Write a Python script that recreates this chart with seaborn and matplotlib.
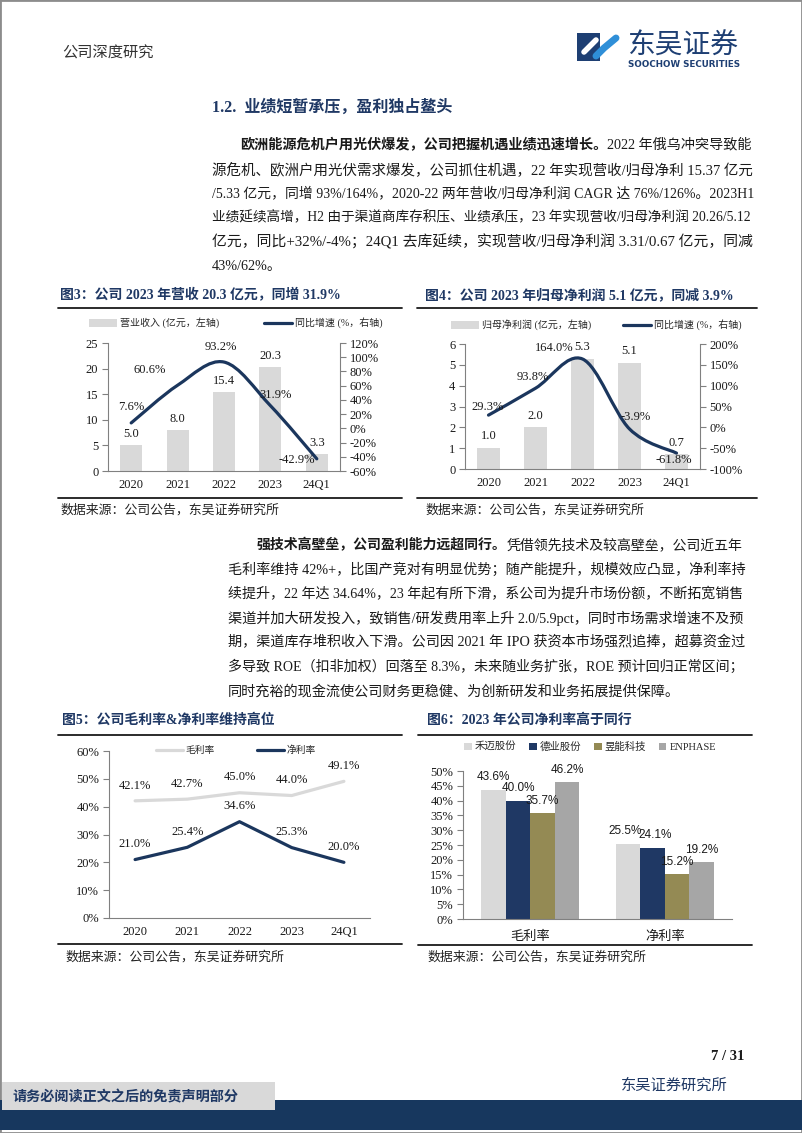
import matplotlib
matplotlib.use("Agg")
import matplotlib.pyplot as plt
import seaborn as sns
import pandas as pd
import numpy as np
from matplotlib.path import Path
from matplotlib.patches import PathPatch, Rectangle, Patch
from matplotlib.lines import Line2D
from matplotlib.font_manager import FontProperties

# ---------------- data ----------------
years = ['2020', '2021', '2022', '2023', '24Q1']
revenue = [5.0, 8.0, 15.4, 20.3, 3.3]            # 亿元
revenue_yoy = [7.6, 60.6, 93.2, 31.9, -42.9]     # %
profit = [1.0, 2.0, 5.3, 5.1, 0.7]               # 亿元
profit_yoy = [29.3, 93.8, 164.0, -3.9, -61.8]    # %
gross_margin = [42.1, 42.7, 45.0, 44.0, 49.1]    # %
net_margin = [21.0, 25.4, 34.6, 25.3, 20.0]      # %
peers = ['禾迈股份', '德业股份', '昱能科技', 'ENPHASE']
peer_metrics = ['毛利率', '净利率']
peer_gross = [43.6, 40.0, 35.7, 46.2]
peer_net = [25.5, 24.1, 15.2, 19.2]

# label offsets (pixels, dx, dy) for the yoy line labels
rev_yoy_off = [(0, -16), (-28, -15), (-3, -15), (5, -11), (-20, 1)]
pro_yoy_off = [(-1, -8), (-3, -11), (-28, -11), (6, -12), (-3, 7)]
peer_label_dx = [[0, 0, 0, 0], [-3, 3, 0, 0]]

# ---------------- style ----------------
sns.set_theme(style='white')
SERIF = ['Liberation Serif', 'Noto Sans CJK SC']
CJK = ['Noto Sans CJK SC', 'DejaVu Sans']
plt.rcParams['font.family'] = SERIF
plt.rcParams['axes.unicode_minus'] = False

NAVY = '#1B365D'
TITLE = '#1F3864'
GREY_BAR = '#D9D9D9'
SPINE = '#808080'
TXT = '#1a1a1a'

W, H = 802, 1133
fig = plt.figure(figsize=(W / 100, H / 100), dpi=100)
renderer = fig.canvas.get_renderer()


def fx(x):
    return x / W


def fy(y):
    return 1 - y / H


def add_ax(l, t, r, b):
    return fig.add_axes([l / W, 1 - b / H, (r - l) / W, (b - t) / H])


def ptext(x, y, s, **kw):
    kw.setdefault('va', 'center')
    kw.setdefault('color', TXT)
    return fig.text(fx(x), fy(y), s, **kw)


def hline(x0, x1, y, lw=1.3, color='#1a1a1a'):
    fig.add_artist(Line2D([fx(x0), fx(x1)], [fy(y), fy(y)], transform=fig.transFigure,
                          color=color, lw=lw))


def rect(x0, y0, x1, y1, color, z=0):
    fig.add_artist(Rectangle((fx(x0), fy(y1)), (x1 - x0) / W, (y1 - y0) / H,
                             transform=fig.transFigure, facecolor=color,
                             edgecolor='none', zorder=z))


def text_line(x, y, segments, right=None, size=10.2):
    """segments: list of (text, weight). Optionally scaled to end at `right`."""
    objs = []
    for s, wgt in segments:
        objs.append(ptext(x, y, s, fontsize=size, fontweight=wgt, ha='left'))

    def layout(sz):
        cx = x
        for o in objs:
            o.set_fontsize(sz)
            o.set_x(fx(cx))
            cx += o.get_window_extent(renderer).width
        return cx - x

    wdt = layout(size)
    if right is not None:
        scale = (right - x) / wdt
        scale = min(max(scale, 0.9), 1.12)
        layout(size * scale)
    return objs


# ---------------- page frame / header / footer ----------------
fig.add_artist(Rectangle((0, 0), 1, 1, transform=fig.transFigure, fill=False,
                         edgecolor='#8c8c8c', lw=2))
ptext(62, 53, '公司深度研究', fontsize=11, color='#333333', family=CJK)

# logo
rect(577, 33, 600, 61, '#1E3F73', z=2)
fig.add_artist(Line2D([fx(584), fx(596)], [fy(52), fy(40)], transform=fig.transFigure,
                      color='white', lw=4, solid_capstyle='round', zorder=3))
fig.add_artist(Line2D([fx(596), fx(604), fx(616)], [fy(56), fy(48), fy(38)],
                      transform=fig.transFigure, color='#2F8FD8', lw=5,
                      solid_capstyle='round', zorder=3))
ptext(627, 46, '东吴证券', fontsize=20, color='#1E3F73', family=CJK)
ptext(628, 64.5, 'SOOCHOW SECURITIES', fontsize=6.3, color='#1E3F73',
      family='DejaVu Sans', fontweight='bold')

# footer
ptext(744, 1057, '7 / 31', fontsize=10.5, fontweight='bold', ha='right')
ptext(621, 1085, '东吴证券研究所', fontsize=11, color=TITLE, family=CJK)
rect(0, 1100, 802, 1130, '#17375E', z=1)
rect(2, 1082, 275, 1110, '#D9D9D9', z=2)
t = ptext(12, 1097, '请务必阅读正文之后的免责声明部分', fontsize=10.2, fontweight='bold',
          color=TITLE, family=CJK)
t.set_zorder(3)

# ---------------- section text ----------------
ptext(212, 108, '1.2.  业绩短暂承压，盈利独占鳌头', fontsize=11.5, fontweight='bold',
      color=TITLE)

p1 = [
    [('欧洲能源危机户用光伏爆发，公司把握机遇业绩迅速增长。', 'bold'),
     ('2022 年俄乌冲突导致能', 'normal')],
    [('源危机、欧洲户用光伏需求爆发，公司抓住机遇，22 年实现营收/归母净利 15.37 亿元', 'normal')],
    [('/5.33 亿元，同增 93%/164%，2020-22 两年营收/归母净利润 CAGR 达 76%/126%。2023H1', 'normal')],
    [('业绩延续高增，H2 由于渠道商库存积压、业绩承压，23 年实现营收/归母净利润 20.26/5.12', 'normal')],
    [('亿元，同比+32%/-4%；24Q1 去库延续，实现营收/归母净利润 3.31/0.67 亿元，同减', 'normal')],
    [('43%/62%。', 'normal')],
]
for i, segs in enumerate(p1):
    x0 = 240 if i == 0 else 212
    text_line(x0, 145 + 24.3 * i, segs, right=None if i == len(p1) - 1 else 750)

p2 = [
    [('强技术高壁垒，公司盈利能力远超同行。', 'bold'),
     ('凭借领先技术及较高壁垒，公司近五年', 'normal')],
    [('毛利率维持 42%+，比国产竞对有明显优势；随产能提升，规模效应凸显，净利率持', 'normal')],
    [('续提升，22 年达 34.64%，23 年起有所下滑，系公司为提升市场份额，不断拓宽销售', 'normal')],
    [('渠道并加大研发投入，致销售/研发费用率上升 2.0/5.9pct，同时市场需求增速不及预', 'normal')],
    [('期，渠道库存堆积收入下滑。公司因 2021 年 IPO 获资本市场强烈追捧，超募资金过', 'normal')],
    [('多导致 ROE（扣非加权）回落至 8.3%，未来随业务扩张，ROE 预计回归正常区间；', 'normal')],
    [('同时充裕的现金流使公司财务更稳健、为创新研发和业务拓展提供保障。', 'normal')],
]
for i, segs in enumerate(p2):
    x0 = 257 if i == 0 else 228
    text_line(x0, 545 + 24.4 * i, segs, right=None if i == len(p2) - 1 else 743)


# ---------------- helpers for charts ----------------
def smooth_path(xs, ys):
    pts = list(zip(xs, ys))
    n = len(pts)
    verts = [pts[0]]
    codes = [Path.MOVETO]
    for i in range(n - 1):
        p0 = pts[i - 1] if i > 0 else pts[i]
        p1 = pts[i]
        p2 = pts[i + 1]
        p3 = pts[i + 2] if i + 2 < n else pts[i + 1]
        c1 = (p1[0] + (p2[0] - p0[0]) / 6, p1[1] + (p2[1] - p0[1]) / 6)
        c2 = (p2[0] - (p3[0] - p1[0]) / 6, p2[1] - (p3[1] - p1[1]) / 6)
        verts += [c1, c2, p2]
        codes += [Path.CURVE4] * 3
    return Path(verts, codes)


def style_axes(ax, ncat, right=False):
    for s in ['top', 'right']:
        ax.spines[s].set_visible(False)
    for s in ['left', 'bottom']:
        ax.spines[s].set_color(SPINE)
        ax.spines[s].set_linewidth(0.8)
    ax.set_xlim(-0.5, ncat - 0.5)
    ax.set_xticks(np.arange(-0.5, ncat, 1.0), minor=True)
    ax.tick_params(axis='x', which='major', length=0, labelsize=9, pad=6, colors=TXT)
    ax.tick_params(axis='x', which='minor', length=4, color=SPINE, width=0.8)
    ax.tick_params(axis='y', which='major', left=True, length=4, color=SPINE, width=0.8,
                   labelsize=9, colors=TXT, pad=3)
    ax.set_xlabel('')
    ax.set_ylabel('')
    ax.grid(False)


def style_twin(ax2):
    for s in ['top', 'left', 'bottom']:
        ax2.spines[s].set_visible(False)
    ax2.spines['right'].set_color(SPINE)
    ax2.spines['right'].set_linewidth(0.8)
    ax2.tick_params(axis='y', right=True, length=4, color=SPINE, width=0.8, labelsize=9,
                    colors=TXT, pad=3)
    ax2.grid(False)
    ax2.set_ylabel('')


def chart_frame(x_title, x0, x1, title, y_title, y_top_line, y_bot_line, y_src, x_src):
    ptext(x_title, y_title, title, fontsize=10, fontweight='bold', color=TITLE)
    hline(x0, x1, y_top_line)
    hline(x0, x1, y_bot_line)
    ptext(x_src, y_src, '数据来源：公司公告，东吴证券研究所', fontsize=9.3, color='#222222')


pct = matplotlib.ticker.FuncFormatter(lambda v, p: f'{v:.0f}%')

# ---------------- Fig 3 ----------------
chart_frame(60, 58, 402, '图3：公司 2023 年营收 20.3 亿元，同增 31.9%', 295, 308, 498, 510, 60)
ax3 = add_ax(108, 343, 340, 471)
sns.barplot(x=years, y=revenue, color=GREY_BAR, width=0.47, linewidth=0, ax=ax3,
            saturation=1)
style_axes(ax3, len(years))
ax3.set_ylim(0, 25)
ax3.set_yticks(np.arange(0, 26, 5))
for i, v in enumerate(revenue):
    ax3.annotate(f'{v:.1f}', (i, v), xytext=(0, 8), textcoords='offset points',
                 ha='center', va='center', fontsize=9, color=TXT)
ax3b = ax3.twinx()
ax3b.set_ylim(-60, 120)
ax3b.set_yticks(np.arange(-60, 121, 20))
ax3b.yaxis.set_major_formatter(pct)
style_twin(ax3b)
ax3b.add_patch(PathPatch(smooth_path(range(len(years)), revenue_yoy), facecolor='none',
                         edgecolor=NAVY, lw=2.3, capstyle='round', zorder=3))
for i, v in enumerate(revenue_yoy):
    dx, dy = rev_yoy_off[i]
    ax3b.annotate(f'{v:.1f}%', (i, v), xytext=(dx * 0.72, -dy * 0.72),
                  textcoords='offset points', ha='center', va='center', fontsize=9,
                  color=TXT, zorder=4)
fig.legend([Patch(facecolor=GREY_BAR, edgecolor='none'), Line2D([], [], color=NAVY, lw=2.3)],
           ['营业收入 (亿元，左轴)', '同比增速 (%，右轴)'], loc='center',
           bbox_to_anchor=(fx(236), fy(323)), ncol=2, frameon=False,
           prop=FontProperties(family=SERIF, size=7.2), handlelength=2.8,
           handleheight=0.8, handletextpad=0.3, columnspacing=4.5)

# ---------------- Fig 4 ----------------
chart_frame(425, 417, 757, '图4：公司 2023 年归母净利润 5.1 亿元，同减 3.9%', 295, 308, 498, 510, 425)
ax4 = add_ax(465, 344, 700, 469)
sns.barplot(x=years, y=profit, color=GREY_BAR, width=0.47, linewidth=0, ax=ax4,
            saturation=1)
style_axes(ax4, len(years))
ax4.set_ylim(0, 6)
ax4.set_yticks(np.arange(0, 7, 1))
for i, v in enumerate(profit):
    ax4.annotate(f'{v:.1f}', (i, v), xytext=(0, 8.5), textcoords='offset points',
                 ha='center', va='center', fontsize=9, color=TXT)
ax4b = ax4.twinx()
ax4b.set_ylim(-100, 200)
ax4b.set_yticks(np.arange(-100, 201, 50))
ax4b.yaxis.set_major_formatter(pct)
style_twin(ax4b)
ax4b.add_patch(PathPatch(smooth_path(range(len(years)), profit_yoy), facecolor='none',
                         edgecolor=NAVY, lw=2.3, capstyle='round', zorder=3))
for i, v in enumerate(profit_yoy):
    dx, dy = pro_yoy_off[i]
    ax4b.annotate(f'{v:.1f}%', (i, v), xytext=(dx * 0.72, -dy * 0.72),
                  textcoords='offset points', ha='center', va='center', fontsize=9,
                  color=TXT, zorder=4)
fig.legend([Patch(facecolor=GREY_BAR, edgecolor='none'), Line2D([], [], color=NAVY, lw=2.3)],
           ['归母净利润 (亿元，左轴)', '同比增速 (%，右轴)'], loc='center',
           bbox_to_anchor=(fx(596), fy(325)), ncol=2, frameon=False,
           prop=FontProperties(family=SERIF, size=7.2), handlelength=2.8,
           handleheight=0.8, handletextpad=0.3, columnspacing=3.2)

# ---------------- Fig 5 ----------------
chart_frame(62, 58, 402, '图5：公司毛利率&净利率维持高位', 720, 735, 944, 957, 65)
ax5 = add_ax(109, 751, 370, 918)
df5 = pd.DataFrame({'year': years * 2,
                    'value': gross_margin + net_margin,
                    'kind': ['毛利率'] * len(years) + ['净利率'] * len(years)})
sns.lineplot(data=df5, x='year', y='value', hue='kind', palette=[GREY_BAR, NAVY],
             linewidth=2.3, ax=ax5, legend=False, sort=False)
style_axes(ax5, len(years))
ax5.set_ylim(0, 60)
ax5.set_yticks(np.arange(0, 61, 10))
ax5.yaxis.set_major_formatter(pct)
for series in (gross_margin, net_margin):
    for i, v in enumerate(series):
        ax5.annotate(f'{v:.1f}%', (i, v), xytext=(0, 11), textcoords='offset points',
                     ha='center', va='center', fontsize=9, color=TXT)
fig.legend([Line2D([], [], color=GREY_BAR, lw=2.3), Line2D([], [], color=NAVY, lw=2.3)],
           ['毛利率', '净利率'], loc='center', bbox_to_anchor=(fx(236), fy(750)),
           ncol=2, frameon=False, prop=FontProperties(family=CJK, size=7),
           handlelength=2.8, handletextpad=0.3, columnspacing=4.3)

# ---------------- Fig 6 ----------------
chart_frame(427, 418, 752, '图6：2023 年公司净利率高于同行', 720, 735, 945, 957, 427)
ax6 = add_ax(463, 771, 732, 919)
df6 = pd.DataFrame({'metric': [peer_metrics[0]] * len(peers) + [peer_metrics[1]] * len(peers),
                    'company': peers * 2,
                    'value': peer_gross + peer_net})
pal6 = ['#D9D9D9', '#1F3864', '#948A54', '#A6A6A6']
sns.barplot(data=df6, x='metric', y='value', hue='company', palette=pal6, width=0.73,
            linewidth=0, ax=ax6, legend=False, saturation=1)
style_axes(ax6, len(peer_metrics))
ax6.tick_params(axis='x', which='major', pad=8)
for lab in ax6.get_xticklabels():
    lab.set_fontfamily(CJK)
    lab.set_fontsize(9.5)
ax6.set_ylim(0, 50)
ax6.set_yticks(np.arange(0, 51, 5))
ax6.yaxis.set_major_formatter(pct)
for h, cont in enumerate(ax6.containers):
    for m, bar in enumerate(cont):
        v = bar.get_height()
        ax6.annotate(f'{v:.1f}%', (bar.get_x() + bar.get_width() / 2, v),
                     xytext=(peer_label_dx[m][h] * 0.72, 9),
                     textcoords='offset points', ha='center', va='center', fontsize=8.5,
                     family='Liberation Sans', color=TXT)
fig.legend([Patch(facecolor=c, edgecolor='none') for c in pal6], peers, loc='center',
           bbox_to_anchor=(fx(590), fy(747)), ncol=4, frameon=False,
           prop=FontProperties(family=SERIF, size=7.5), handlelength=0.75,
           handleheight=0.75, handletextpad=0.3, columnspacing=1.2)

fig.savefig('out.png', dpi=100)
